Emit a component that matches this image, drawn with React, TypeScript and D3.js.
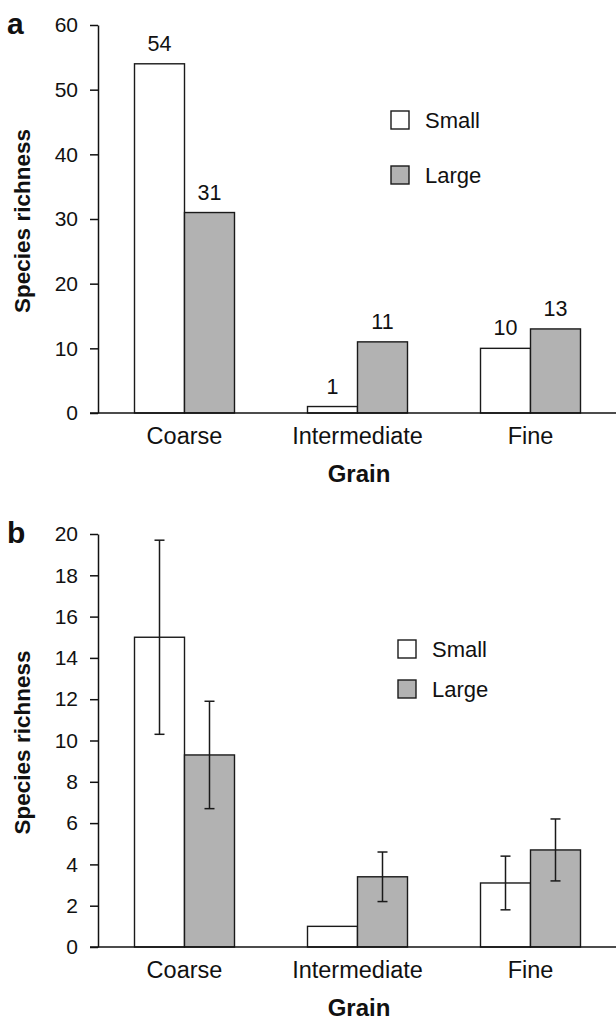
import React, { useEffect, useRef } from 'react';
import * as d3 from 'd3';

const width = 616;
const height = 1021;

const categories = ['Coarse', 'Intermediate', 'Fine'];
const seriesNames = ['Small', 'Large'];

// panel a: raw counts
const countSmall = [54, 1, 10];
const countLarge = [31, 11, 13];
const countTicks = [0, 10, 20, 30, 40, 50, 60];

// panel b: means with error bars
const meanSmall = [15, 1, 3.1];
const meanLarge = [9.3, 3.4, 4.7];
const errSmall = [4.7, null, 1.3];
const errLarge = [2.6, 1.2, 1.5];
const meanTicks = [0, 2, 4, 6, 8, 10, 12, 14, 16, 18, 20];

const fills = ['#ffffff', '#b2b2b2'];
const font = 'Liberation Sans, Arial, Helvetica, sans-serif';

const x0 = d3.scaleBand().domain(categories).range([98, 617]).paddingInner(0.422).paddingOuter(0.211);
const x1 = d3.scaleBand().domain(seriesNames).range([0, x0.bandwidth()]);

function Panel({ letter, top, bottom, maxY, ticks, small, large, errS, errL, showValues, legendX, legendY, legendGap }) {
  const axisRef = useRef(null);
  const y = d3.scaleLinear().domain([0, maxY]).range([bottom, top]);

  useEffect(() => {
    const g = d3.select(axisRef.current);
    g.call(d3.axisLeft(y).tickValues(ticks).tickSize(8).tickSizeOuter(0).tickPadding(12));
    g.attr('font-family', font).attr('font-size', 21);
    g.select('.domain').attr('stroke', '#111').attr('stroke-width', 1.5);
    g.selectAll('.tick line').attr('stroke', '#111').attr('stroke-width', 1.5);
    g.selectAll('.tick text').attr('fill', '#111');
  }, []);

  const rows = categories.map((c, i) => [
    { cat: c, s: 'Small', v: small[i], e: errS ? errS[i] : null, fill: fills[0] },
    { cat: c, s: 'Large', v: large[i], e: errL ? errL[i] : null, fill: fills[1] },
  ]).flat();

  return (
    <g>
      <text x={7} y={top + 9} fontFamily={font} fontWeight="bold" fontSize={30} fill="#111">{letter}</text>
      {rows.map((d, i) => {
        const bx = x0(d.cat) + x1(d.s);
        const cx = bx + x1.bandwidth() / 2;
        return (
          <g key={i}>
            <rect x={bx} y={y(d.v)} width={x1.bandwidth()} height={bottom - y(d.v)}
              fill={d.fill} stroke="#1a1a1a" strokeWidth={1.4} />
            {showValues && (
              <text x={cx} y={y(d.v) - 13} textAnchor="middle" fontFamily={font} fontSize={21.5} fill="#111">{d.v}</text>
            )}
            {d.e != null && (
              <g stroke="#1a1a1a" strokeWidth={1.5}>
                <line x1={cx} x2={cx} y1={y(d.v + d.e)} y2={y(d.v - d.e)} />
                <line x1={cx - 5} x2={cx + 5} y1={y(d.v + d.e)} y2={y(d.v + d.e)} />
                <line x1={cx - 5} x2={cx + 5} y1={y(d.v - d.e)} y2={y(d.v - d.e)} />
              </g>
            )}
          </g>
        );
      })}
      <g ref={axisRef} transform="translate(98,0)" />
      <line x1={90} x2={616} y1={bottom} y2={bottom} stroke="#111" strokeWidth={1.5} />
      {categories.map(c => (
        <text key={c} x={x0(c) + x0.bandwidth() / 2} y={bottom + 31} textAnchor="middle"
          fontFamily={font} fontSize={23.5} fill="#111">{c}</text>
      ))}
      <text x={359} y={bottom + 69} textAnchor="middle" fontFamily={font} fontWeight="bold" fontSize={24} fill="#111">Grain</text>
      <text transform={`translate(30,${(top + bottom) / 2 + 2}) rotate(-90)`} textAnchor="middle"
        fontFamily={font} fontWeight="bold" fontSize={22.5} fill="#111">Species richness</text>
      {seriesNames.map((s, i) => (
        <g key={s} transform={`translate(${legendX},${legendY + i * legendGap})`}>
          <rect x={0} y={0} width={18} height={18} fill={fills[i]} stroke="#1a1a1a" strokeWidth={1.4} />
          <text x={34} y={17} fontFamily={font} fontSize={22} fill="#111">{s}</text>
        </g>
      ))}
    </g>
  );
}

export default function App() {
  return (
    <svg width={width} height={height} style={{ position: 'absolute', left: 0, top: 0, background: '#fff' }}>
      <rect width={width} height={height} fill="#fff" />
      <Panel letter="a" top={25} bottom={413} maxY={60} ticks={countTicks}
        small={countSmall} large={countLarge} errS={null} errL={null} showValues={true}
        legendX={391} legendY={111} legendGap={55} />
      <Panel letter="b" top={534} bottom={947} maxY={20} ticks={meanTicks}
        small={meanSmall} large={meanLarge} errS={errSmall} errL={errLarge} showValues={false}
        legendX={398} legendY={640} legendGap={40} />
    </svg>
  );
}
